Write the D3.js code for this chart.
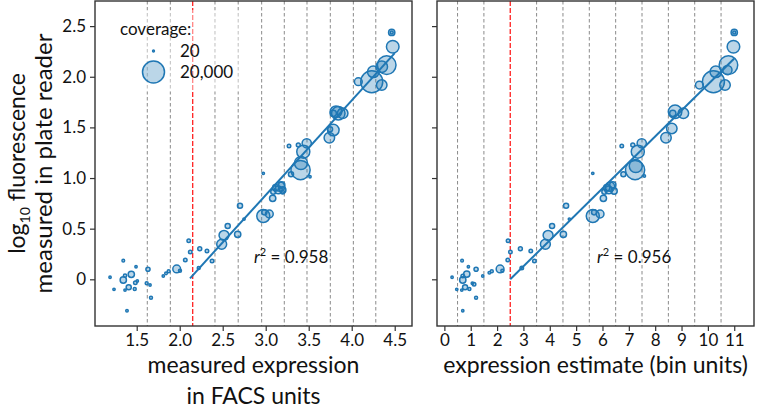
<!DOCTYPE html>
<html><head><meta charset="utf-8">
<script src="https://cdn.jsdelivr.net/npm/d3@7"></script>
<style>body{margin:0;background:#fff}svg{display:block;font-family:Lato,'Open Sans',sans-serif}</style>
</head><body><svg id="c" width="768" height="408"></svg>
<script>
// ---------- data ----------
const leftTicks = [1.5, 2.0, 2.5, 3.0, 3.5, 4.0, 4.5];
const rightTicks = [0,1,2,3,4,5,6,7,8,9,10,11];
const yTicks = [0, 0.5, 1.0, 1.5, 2.0, 2.5];
const leftBinEdges = [1.623,1.891,2.151,2.41,2.68,2.953,3.216,3.48,3.751,4.019,4.28];
const rightBinEdges = [0.5,1.5,2.5,3.5,4.5,5.5,6.5,7.5,8.5,9.5,10.5];
const leftThreshold = 2.151;
const rightThreshold = 2.5;

const leftX = [1.344,1.492,1.190,1.236,1.364,1.344,1.437,1.407,1.477,1.484,1.507,1.364,1.387,1.631,1.616,1.655,1.666,1.809,1.841,1.872,1.965,2.003,2.065,2.105,2.123,2.233,2.317,2.221,2.376,2.488,2.515,2.558,2.674,2.701,2.748,2.972,3.042,2.984,2.972,3.081,3.088,3.116,3.166,3.147,3.198,3.186,3.198,3.271,3.294,3.379,3.405,3.410,3.437,3.477,3.515,3.740,3.786,3.748,3.817,3.844,3.895,3.786,4.077,4.233,4.349,4.251,4.349,4.407,4.477,4.465,4.465];
const leftY = [0.184,0.124,0.020,-0.099,0.036,-0.007,0.049,-0.079,-0.096,-0.034,-0.017,-0.106,-0.310,0.099,-0.039,-0.056,-0.182,0.033,0.059,0.079,0.102,0.085,0.191,0.381,0.270,0.302,0.279,0.112,0.181,0.346,0.434,0.526,0.444,0.727,0.595,0.625,0.645,0.661,1.046,0.800,0.865,0.904,0.914,0.882,0.882,0.931,0.859,1.316,1.037,1.326,1.079,1.148,1.260,1.343,1.013,1.398,1.474,1.481,1.655,1.639,1.639,1.639,1.951,1.951,1.918,2.049,2.099,2.115,2.296,2.438,2.438];
const leftCov = [100,60,60,60,200,1200,1200,700,150,250,60,60,80,400,150,60,150,60,100,150,2000,150,250,250,250,350,250,150,250,3500,3500,700,1200,700,60,6500,2000,700,60,1200,700,1200,3000,2000,1200,1200,250,250,700,350,15000,6500,6500,3000,60,4000,5000,700,5000,7000,4000,1200,2000,20000,4000,5000,5000,14000,6000,1200,150];

const rightX = [0.672,0.911,0.292,0.470,0.698,0.698,0.850,0.786,0.949,1.127,1.063,0.660,0.698,1.203,1.203,1.457,1.708,1.799,2.114,2.200,2.406,2.417,2.505,2.884,3.279,2.937,3.416,3.833,3.935,4.087,4.516,4.619,4.744,5.632,5.909,5.681,5.632,6.034,6.072,6.163,6.288,6.239,6.440,6.391,6.732,6.793,7.150,7.237,7.264,7.340,7.490,7.590,8.410,8.630,8.755,9.070,8.668,9.677,10.21,10.65,10.30,10.74,10.78,10.97,11.00,11.00];
const rightY = [0.184,0.124,0.020,-0.099,0.033,-0.007,0.052,-0.079,-0.096,-0.049,-0.039,-0.106,-0.310,0.099,-0.182,0.033,0.065,0.079,0.102,0.085,0.191,0.381,0.270,0.302,0.279,0.112,0.181,0.346,0.434,0.526,0.444,0.727,0.595,0.625,0.645,0.661,1.046,0.800,0.865,0.904,0.914,0.882,0.872,0.931,1.316,1.037,1.326,1.079,1.118,1.260,1.343,1.020,1.398,1.490,1.655,1.639,1.639,1.918,1.951,1.918,2.049,2.066,2.115,2.296,2.438,2.438];
const rightCov = [100,60,60,60,250,1200,1200,700,150,250,80,60,60,400,150,60,100,150,2000,150,250,250,250,350,250,250,250,3500,3500,700,1200,700,60,6500,2000,700,60,1200,700,1200,3000,2000,1200,1200,250,700,350,15000,6500,6500,3000,60,4000,4000,7000,4000,1200,2000,20000,4000,5000,3000,14000,6000,1200,150];

const leftFitX = [2.12, 4.50];
const leftFitY = [0.01, 2.233];
const rightFitX = [2.5, 11.0];
const rightFitY = [0.0, 2.18];
const r2Labels = ["0.958", "0.956"];
const legendCov = [20, 20000];
const legendLabels = ["20", "20,000"];

// ---------- layout ----------
const svg = d3.select("#c");
const yTop = 1, yBot = 326;
const y = d3.scaleLinear().domain([-0.461, 2.748]).range([yBot, yTop]);
const xL = d3.scaleLinear().domain([1.015, 4.701]).range([95, 412]);
const xR = d3.scaleLinear().domain([-0.28, 11.75]).range([437, 754]);
const rS = d3.scaleSqrt().domain([0, 20000]).range([0.6, 11]);
const C0 = "#1f77b4";
const SW = 1.5;

function panel(x, edges, thr, xs, ys, cov, fitX, fitY, ticks, fmt, showY, r2, r2x) {
  const [x0, x1] = x.range();
  const g = svg.append("g");
  g.selectAll("line.bin").data(edges).join("line")
    .attr("x1", d => x(d)).attr("x2", d => x(d))
    .attr("y1", yTop).attr("y2", yBot)
    .attr("stroke", d => d === thr ? "#ff2020" : "#8a8a8a")
    .attr("stroke-width", d => d === thr ? 1.3 : 1)
    .attr("stroke-dasharray", d => d === thr ? "5,2" : "3.5,2.5");
  const idx = d3.range(xs.length);
  g.selectAll("circle.pt").data(idx).join("circle")
    .attr("cx", i => x(xs[i])).attr("cy", i => y(ys[i])).attr("r", i => rS(cov[i]))
    .attr("fill", C0).attr("fill-opacity", 0.3)
    .attr("stroke", C0).attr("stroke-width", SW);
  g.append("line")
    .attr("x1", x(fitX[0])).attr("y1", y(fitY[0]))
    .attr("x2", x(fitX[1])).attr("y2", y(fitY[1]))
    .attr("stroke", C0).attr("stroke-width", 2);
  g.append("rect").attr("x", x0).attr("y", yTop).attr("width", x1 - x0).attr("height", yBot - yTop)
    .attr("fill", "none").attr("stroke", "#333").attr("stroke-width", 1.4);
  const ax = g.append("g").attr("transform", `translate(0,${yBot})`)
    .call(d3.axisBottom(x).tickValues(ticks).tickFormat(fmt).tickSize(5).tickPadding(3));
  ax.select(".domain").remove();
  ax.selectAll("line").attr("stroke", "#333").attr("stroke-width", 1.2);
  ax.selectAll("text").attr("font-size", 17).attr("fill", "#111").attr("font-family", "Lato");
  const ay = g.append("g").attr("transform", `translate(${x0},0)`)
    .call(d3.axisLeft(y).tickValues(yTicks).tickFormat(d => d === 0 ? "0" : d3.format(".1f")(d)).tickSize(5).tickPadding(4));
  ay.select(".domain").remove();
  ay.selectAll("line").attr("stroke", "#333").attr("stroke-width", 1.2);
  ay.selectAll("text").attr("font-size", 17).attr("fill", "#111").attr("font-family", "Lato");
  if (!showY) ay.selectAll("text").remove();
  const t = g.append("text").attr("x", r2x).attr("y", 263).attr("font-size", 17).attr("fill", "#111");
  t.append("tspan").attr("font-style", "italic").text("r");
  t.append("tspan").attr("font-size", 11).attr("dy", -7).text("2");
  t.append("tspan").attr("dy", 7).text(" = " + r2);
  return g;
}

panel(xL, leftBinEdges, leftThreshold, leftX, leftY, leftCov, leftFitX, leftFitY,
  leftTicks, d3.format(".1f"), true, r2Labels[0], 254);
panel(xR, rightBinEdges, rightThreshold, rightX, rightY, rightCov, rightFitX, rightFitY,
  rightTicks, d3.format("d"), false, r2Labels[1], 597);

// legend
const lg = svg.append("g");
lg.append("rect").attr("x", 102).attr("y", 10).attr("width", 138).attr("height", 82)
  .attr("fill", "#fff").attr("opacity", 0.45);
lg.append("text").attr("x", 120).attr("y", 35).attr("font-size", 17).attr("fill", "#111").text("coverage:");
legendCov.forEach((c, i) => {
  const cy = i === 0 ? 51 : 72;
  lg.append("circle").attr("cx", 153.5).attr("cy", cy).attr("r", rS(c))
    .attr("fill", C0).attr("fill-opacity", 0.3).attr("stroke", C0).attr("stroke-width", SW);
  lg.append("text").attr("x", 180).attr("y", cy + 6).attr("font-size", 17).attr("fill", "#111").text(legendLabels[i]);
});

// axis titles
svg.append("text").attr("x", 253.5).attr("y", 373).attr("text-anchor", "middle").attr("font-size", 23).attr("fill", "#111").text("measured expression");
svg.append("text").attr("x", 253.5).attr("y", 404).attr("text-anchor", "middle").attr("font-size", 23).attr("fill", "#111").text("in FACS units");
svg.append("text").attr("x", 595.5).attr("y", 373).attr("text-anchor", "middle").attr("font-size", 23).attr("fill", "#111").text("expression estimate (bin units)");

const yl = svg.append("g").attr("transform", "translate(0,163.5) rotate(-90)");
const l1 = yl.append("text").attr("x", 0).attr("y", 25).attr("text-anchor", "middle").attr("font-size", 23).attr("fill", "#111");
l1.append("tspan").text("log");
l1.append("tspan").attr("font-size", 14).attr("dy", 5).text("10");
l1.append("tspan").attr("dy", -5).text(" fluorescence");
yl.append("text").attr("x", 0).attr("y", 52).attr("text-anchor", "middle").attr("font-size", 24).attr("fill", "#111").text("measured in plate reader");
</script></body></html>
